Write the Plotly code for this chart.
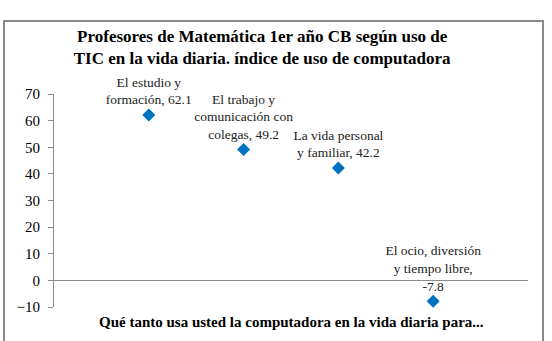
import plotly.graph_objects as go

categories = ["El estudio y formación", "El trabajo y comunicación con colegas",
              "La vida personal y familiar", "El ocio, diversión y tiempo libre"]
label_lines = ["El estudio y<br>formación, ", "El trabajo y<br>comunicación con<br>colegas, ",
               "La vida personal<br>y familiar, ", "El ocio, diversión<br>y tiempo libre,<br>"]
values = [62.1, 49.2, 42.2, -7.8]
y_ticks = [-10, 0, 10, 20, 30, 40, 50, 60, 70]

xpos = list(range(1, len(categories) + 1))
texts = [f"{l}{v}" for l, v in zip(label_lines, values)]

serif = "Liberation Serif, Times New Roman, serif"
fig = go.Figure(go.Scatter(
    x=xpos, y=values, mode="markers+text", text=texts, textposition="top center",
    marker=dict(symbol="diamond", color="#0070C0", size=10),
    textfont=dict(family=serif, size=13.5, color="#222"),
    cliponaxis=False, hoverinfo="skip"))

fig.update_layout(
    width=552, height=341, plot_bgcolor="white", paper_bgcolor="white",
    margin=dict(l=54, r=24, t=94, b=34), showlegend=False,
    title=dict(text="<b>Profesores de Matemática 1er año CB según uso de<br>TIC en la vida diaria. índice de uso de computadora</b>",
               x=0.475, xanchor="center", y=1 - 42/341, yanchor="middle",
               font=dict(family=serif, size=17, color="black")),
    xaxis=dict(range=[0, 5], showticklabels=False, showgrid=False, zeroline=False,
               showline=False, ticks=""),
    yaxis=dict(range=[-10, 70], tickvals=y_ticks, showgrid=False, zeroline=True,
               zerolinecolor="#8c8c8c", zerolinewidth=1, showline=True, linecolor="#8c8c8c",
               linewidth=1, ticks="outside", ticklen=5, tickcolor="#8c8c8c",
               ticklabelstandoff=5,
               tickfont=dict(family=serif, size=15, color="black")),
    shapes=[dict(type="rect", xref="paper", yref="paper",
                 x0=-50/474, x1=(543-54)/474, y0=-0.3, y1=(341-21)/213 - 34/213,
                 line=dict(color="#8a8a8a", width=2), fillcolor="rgba(0,0,0,0)")],
    annotations=[dict(text="<b>Qué tanto usa usted la computadora en la vida diaria para...</b>",
                      xref="paper", yref="paper", x=(291-54)/474, y=-(322-307)/213,
                      xanchor="center", yanchor="middle", showarrow=False,
                      font=dict(family=serif, size=15, color="black"))],
)
fig.write_html("out.html")
